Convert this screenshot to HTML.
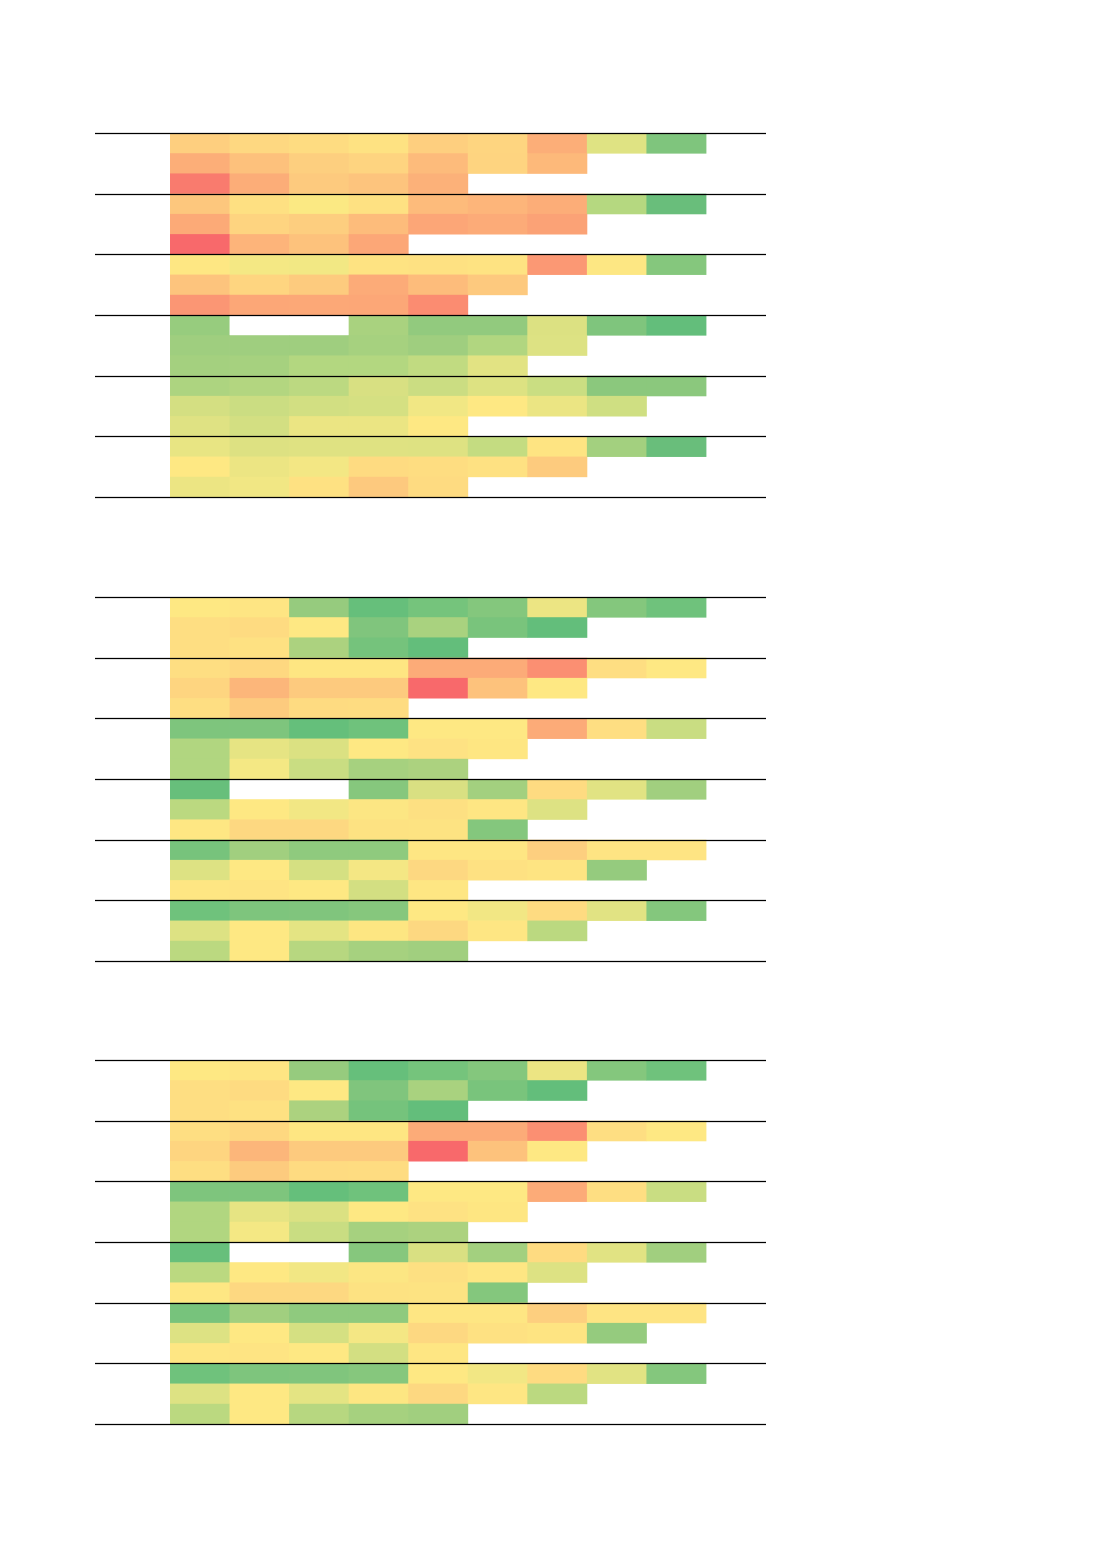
<!DOCTYPE html>
<html><head><meta charset="utf-8"><style>html,body{margin:0;padding:0;background:#fff}</style></head>
<body>
<svg id="s" width="1102" height="1559" xmlns="http://www.w3.org/2000/svg" style="display:block"></svg>
<script>
var W='#ffffff';
var b1=[
[['#fecf7f','#fed881','#fedc81','#fee282','#fecf7f','#fed580','#fcae78','#dfe383','#7fc57d'],
 ['#fcae78','#fdc17c','#fdcf7f','#fed480','#fdbb7b','#fed480','#fdb97a'],
 ['#f97b6e','#fcad78','#fdca7e','#fdc47d','#fcb179']],
[['#fdc77d','#fee082','#fbe983','#fee182','#fdbb7b','#fdb57a','#fcad78','#b5d880','#69be7b'],
 ['#fcaa77','#fed480','#fdce7f','#fdbc7b','#fca677','#fcab78','#fba276'],
 ['#f8696b','#fdb47a','#fdc27c','#fca777']],
[['#fee783','#f4e884','#f2e884','#fee382','#fee182','#fee382','#fb9874','#fde783','#85c77d'],
 ['#fdc47d','#fed580','#fdcb7e','#fcab78','#fdbc7b','#fdc97e'],
 ['#fb9674','#fca777','#fca877','#fca777','#fb8c71']],
[['#97cc7e',W,W,'#a9d27f','#92ca7e','#92ca7e','#dce182','#7fc57d','#63be7b'],
 ['#9fce7f','#9fce7f','#9fce7f','#a6d17f','#9fce7f','#b1d680','#dde283'],
 ['#a4d07f','#a6d17f','#b3d780','#b3d780','#c1db81','#e2e383']],
[['#add480','#b3d680','#bcd981','#d8e082','#cbdd82','#dde282','#cade82','#8bc87d','#8bc87d'],
 ['#d4df82','#cbdd82','#d2df82','#d5e082','#f1e784','#fee883','#ebe583','#cfdf82'],
 ['#dfe283','#d3df82','#ebe583','#ebe583','#fee883']],
[['#e8e583','#dde182','#dfe282','#dfe282','#dee282','#c4dc81','#fee482','#a3d07f','#69be7b'],
 ['#fee883','#ece583','#f3e784','#fedb81','#fedd81','#fee182','#fdcb7e'],
 ['#ece583','#f1e784','#fee182','#fdc97e','#fedb81']]
];
var b2=[
[['#fee883','#fee583','#96cb7e','#66bf7b','#75c47c','#84c77d','#ece583','#84c77d','#6fc27c'],
 ['#fede82','#fedb81','#fee883','#80c57d','#a9d27f','#79c47c','#63be7b'],
 ['#fede82','#fee182','#acd27f','#75c37c','#63be7b']],
[['#fede82','#fed880','#fee682','#fee682','#fcab78','#fcab78','#fb8f72','#fede82','#fee883'],
 ['#fed580','#fcb67a','#fdca7e','#fdca7e','#f8696b','#fdc27c','#fee883'],
 ['#fede82','#fdcb7e','#fedb81','#fedc81']],
[['#7ec57d','#7ec57d','#65bf7b','#6fc27c','#fee883','#fee883','#fcab78','#fede82','#c9dd82'],
 ['#b1d680','#e6e483','#dbe182','#fee883','#fee283','#fee682'],
 ['#b1d680','#f4e884','#c9dd82','#a6d17f','#acd27f']],
[['#67bf7b',W,W,'#86c77d','#d9e082','#a3d07f','#fedb81','#e1e383','#a1cf7f'],
 ['#bbd980','#fee883','#f2e784','#fce683','#fde082','#fee683','#dde283'],
 ['#fee783','#fdd881','#fdd881','#fde282','#fde382','#84c77d']],
[['#77c37c','#a1cf7f','#8fca7e','#8fca7e','#fee683','#fee683','#fdcf7f','#fee483','#fee483'],
 ['#dde283','#fee883','#d5e082','#f4e784','#fdd881','#fee182','#fee482','#95cb7e'],
 ['#fee683','#fee483','#fee883','#d3df82','#fee683']],
[['#6fc27c','#7ec57d','#80c57d','#86c77d','#fee883','#f2e784','#fedb81','#e1e383','#84c77d'],
 ['#dde283','#fee883','#e4e483','#fde682','#fdd881','#fee683','#bbd980'],
 ['#bbd980','#fee883','#b7d780','#a6d17f','#a1cf7f']]
];
var blocks=[[133,b1],[597,b2],[1060,b2]];
var s='',cw=(706-170)/9,gh=(497-133)/6,rh=gh/3;
blocks.forEach(function(b){
  var top=b[0];
  b[1].forEach(function(g,gi){
    g.forEach(function(row,ri){
      row.forEach(function(c,ci){
        s+='<rect x="'+(170+ci*cw).toFixed(2)+'" y="'+(top+gi*gh+ri*rh).toFixed(2)+'" width="'+(cw+0.4).toFixed(2)+'" height="'+(rh+0.4).toFixed(2)+'" fill="'+c+'"/>';
      });
    });
  });
  for(var i=0;i<=6;i++){var y=Math.round(top+i*gh)+0.5;s+='<line x1="95" x2="766" y1="'+y+'" y2="'+y+'" stroke="#000" stroke-width="1.3"/>';}
});
document.getElementById('s').innerHTML=s;
</script>
</body></html>
